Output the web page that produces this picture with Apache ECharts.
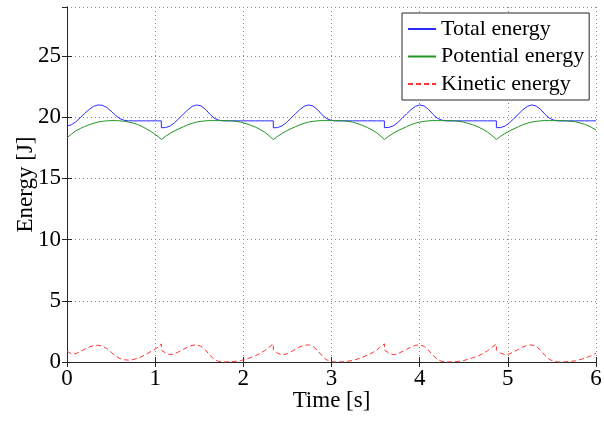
<!DOCTYPE html>
<html>
<head>
<meta charset="utf-8">
<script src="https://cdn.jsdelivr.net/npm/echarts@6/dist/echarts.min.js"></script>
<style>
html,body{margin:0;padding:0;background:#fff;}
#chart{width:604px;height:422px;}
</style>
</head>
<body>
<div id="chart"></div>
<script>
// Time samples [s] (duplicated times mark the impact jumps)
const time = [
  0.00, 0.05, 0.10, 0.15, 0.20, 0.25, 0.30, 0.35, 0.40, 0.45, 0.50, 0.55, 0.60, 0.65, 0.70, 0.75, 0.80, 0.85, 0.90, 0.95, 1.00, 1.04,
  1.07, 1.07, 1.12, 1.17, 1.22, 1.27, 1.32, 1.37, 1.42, 1.47, 1.52, 1.57, 1.62, 1.67, 1.72, 1.77, 1.87, 1.97, 2.07, 2.14, 2.19, 2.24, 2.29,
  2.34, 2.34, 2.39, 2.44, 2.49, 2.54, 2.59, 2.64, 2.69, 2.74, 2.79, 2.84, 2.89, 2.94, 2.99, 3.04, 3.14, 3.24, 3.34, 3.41, 3.46, 3.51, 3.55,
  3.60, 3.60, 3.65, 3.70, 3.75, 3.80, 3.85, 3.90, 3.95, 4.00, 4.05, 4.10, 4.15, 4.20, 4.25, 4.30, 4.40, 4.50, 4.60, 4.67, 4.72, 4.77, 4.82,
  4.87, 4.87, 4.92, 4.97, 5.02, 5.07, 5.12, 5.17, 5.22, 5.27, 5.32, 5.37, 5.42, 5.47, 5.52, 5.57, 5.67, 5.77, 5.87, 5.94, 6.00
];
const totalEnergy = [
  19.28, 19.38, 19.62, 19.95, 20.30, 20.62, 20.88, 21.00, 20.97, 20.80, 20.50, 20.15, 19.88, 19.74, 19.70, 19.70, 19.70, 19.70, 19.70, 19.70, 19.70, 19.70,
  19.70, 19.14, 19.15, 19.28, 19.55, 19.90, 20.25, 20.60, 20.88, 21.00, 20.92, 20.65, 20.25, 19.92, 19.76, 19.70, 19.70, 19.70, 19.70, 19.70, 19.70, 19.70, 19.70,
  19.70, 19.13, 19.15, 19.30, 19.56, 19.92, 20.27, 20.62, 20.89, 21.00, 20.91, 20.63, 20.22, 19.90, 19.75, 19.70, 19.70, 19.70, 19.70, 19.70, 19.70, 19.70, 19.70,
  19.70, 19.14, 19.16, 19.29, 19.55, 19.90, 20.26, 20.60, 20.88, 21.00, 20.92, 20.64, 20.24, 19.91, 19.76, 19.70, 19.70, 19.70, 19.70, 19.70, 19.70, 19.70, 19.70,
  19.70, 19.14, 19.15, 19.28, 19.54, 19.90, 20.25, 20.60, 20.88, 21.00, 20.92, 20.65, 20.25, 19.92, 19.76, 19.70, 19.70, 19.70, 19.70, 19.70, 19.70
];
const potentialEnergy = [
  18.32, 18.62, 18.88, 19.07, 19.24, 19.38, 19.50, 19.60, 19.66, 19.70, 19.72, 19.72, 19.70, 19.66, 19.60, 19.52, 19.40, 19.24, 19.05, 18.84, 18.58, 18.38,
  18.18, 18.18, 18.45, 18.68, 18.88, 19.05, 19.22, 19.38, 19.50, 19.60, 19.66, 19.70, 19.72, 19.72, 19.72, 19.72, 19.70, 19.60, 19.38, 19.18, 19.00, 18.78, 18.50,
  18.17, 18.17, 18.44, 18.67, 18.88, 19.06, 19.22, 19.37, 19.50, 19.60, 19.66, 19.70, 19.72, 19.72, 19.72, 19.72, 19.70, 19.60, 19.36, 19.14, 18.96, 18.74, 18.50,
  18.18, 18.18, 18.45, 18.68, 18.88, 19.05, 19.22, 19.38, 19.50, 19.60, 19.66, 19.70, 19.72, 19.72, 19.72, 19.72, 19.70, 19.60, 19.38, 19.18, 19.00, 18.78, 18.50,
  18.18, 18.18, 18.45, 18.68, 18.88, 19.05, 19.22, 19.38, 19.50, 19.60, 19.66, 19.70, 19.72, 19.72, 19.72, 19.72, 19.70, 19.62, 19.42, 19.20, 18.95
];
const kineticEnergy = [
  0.90, 0.65, 0.68, 0.85, 1.05, 1.22, 1.33, 1.37, 1.30, 1.10, 0.80, 0.50, 0.28, 0.18, 0.15, 0.20, 0.30, 0.45, 0.65, 0.85, 1.05, 1.25,
  1.48, 0.98, 0.72, 0.60, 0.66, 0.85, 1.03, 1.22, 1.36, 1.40, 1.28, 0.98, 0.55, 0.22, 0.05, 0.00, 0.02, 0.12, 0.33, 0.52, 0.70, 0.92, 1.20,
  1.50, 0.99, 0.71, 0.58, 0.66, 0.84, 1.04, 1.24, 1.37, 1.40, 1.27, 0.96, 0.52, 0.20, 0.04, 0.00, 0.02, 0.12, 0.35, 0.56, 0.74, 0.96, 1.20,
  1.48, 0.98, 0.72, 0.60, 0.66, 0.85, 1.03, 1.22, 1.36, 1.40, 1.28, 0.98, 0.55, 0.22, 0.05, 0.00, 0.02, 0.12, 0.33, 0.52, 0.70, 0.92, 1.20,
  1.46, 0.97, 0.72, 0.60, 0.66, 0.85, 1.03, 1.22, 1.36, 1.40, 1.28, 0.98, 0.55, 0.22, 0.05, 0.00, 0.02, 0.10, 0.30, 0.50, 0.72
];
const seriesNames = ['Total energy', 'Potential energy', 'Kinetic energy'];
const xTitle = 'Time [s]';
const yTitle = 'Energy [J]';

const FONT = '"Liberation Serif", "Times New Roman", serif';
const FS = 23;
const AX = '#262626';
const pairs = (vals) => time.map((t, i) => [t, vals[i]]);

const gridLine = { show: true, lineStyle: { color: '#8a8a8a', width: 1, type: [1, 3] } };
const frameAxisBase = {
  type: 'value',
  axisLine: { show: true, lineStyle: { color: AX, width: 1 } },
  axisTick: { show: true, inside: true, length: 5, lineStyle: { color: AX, width: 1 } }
};

const chart = echarts.init(document.getElementById('chart'), null, { renderer: 'canvas' });
chart.setOption({
  animation: false,
  backgroundColor: '#ffffff',
  grid: { left: 67, right: 8, top: 7, bottom: 60, containLabel: false, outerBoundsMode: 'none' },
  xAxis: [
    Object.assign({}, frameAxisBase, {
      position: 'bottom', min: 0, max: 6, interval: 1,
      name: xTitle, nameLocation: 'middle', nameGap: 27, nameMoveOverlap: false,
      nameTextStyle: { fontFamily: FONT, fontSize: FS, color: '#000' },
      axisLabel: { fontFamily: FONT, fontSize: FS, color: '#000', margin: 5 },
      splitLine: gridLine
    }),
    Object.assign({}, frameAxisBase, {
      position: 'top', min: 0, max: 6, interval: 1,
      axisLabel: { show: false }, splitLine: { show: false }
    })
  ],
  yAxis: [
    Object.assign({}, frameAxisBase, {
      position: 'left', min: 0, max: 29, interval: 5,
      name: yTitle, nameLocation: 'middle', nameGap: 30, nameMoveOverlap: false,
      nameTextStyle: { fontFamily: FONT, fontSize: FS, color: '#000' },
      axisLabel: { fontFamily: FONT, fontSize: FS, color: '#000', margin: 6, showMaxLabel: false },
      splitLine: gridLine
    }),
    Object.assign({}, frameAxisBase, {
      position: 'right', min: 0, max: 29, interval: 5,
      axisLabel: { show: false }, splitLine: { show: false }
    })
  ],
  legend: {
    orient: 'vertical',
    left: 402, top: 13,
    padding: [5, 5, 5, 5],
    itemGap: 5.5,
    itemWidth: 28, itemHeight: 14,
    backgroundColor: '#ffffff',
    borderColor: AX, borderWidth: 1, borderRadius: 0,
    itemStyle: { opacity: 0, borderWidth: 0 },
    textStyle: { fontFamily: FONT, fontSize: 22, color: '#000', lineHeight: 22 },
    data: seriesNames
  },
  series: [
    { name: seriesNames[0], type: 'line', data: pairs(totalEnergy), symbol: 'none',
      color: '#2a2aff', lineStyle: { color: '#2a2aff', width: 1 } },
    { name: seriesNames[1], type: 'line', data: pairs(potentialEnergy), symbol: 'none',
      color: '#229422', lineStyle: { color: '#229422', width: 1 } },
    { name: seriesNames[2], type: 'line', data: pairs(kineticEnergy), symbol: 'none',
      color: '#ff3333', lineStyle: { color: '#ff3333', width: 1, type: [5, 3] } }
  ]
});
</script>
</body>
</html>
